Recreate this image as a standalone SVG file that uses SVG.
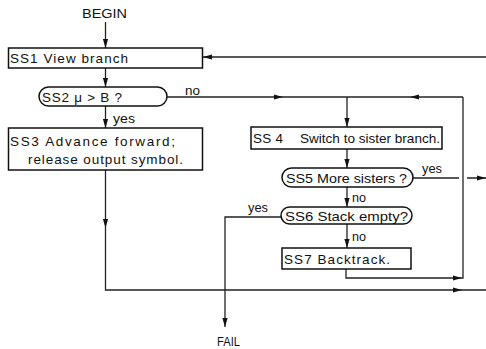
<svg xmlns="http://www.w3.org/2000/svg" xmlns:xlink="http://www.w3.org/1999/xlink" width="486" height="349" viewBox="0 0 486 349">
<style>
.box{fill:#fff;stroke:#111;stroke-width:1.5}
.ln{fill:none;stroke:#222;stroke-width:1.3}
text{font-family:"Liberation Sans",Arial,sans-serif;font-size:13.5px;fill:#111}
.ah{fill:#111}
</style>
<defs>
<path id="ah" class="ah" d="M0,0 L-9,-2.6 L-9,2.6 Z"/>
</defs>
<rect width="486" height="349" fill="#fff"/>
<g id="connectors">
<path class="ln" d="M105.5,22 V48"/>
<use xlink:href="#ah" transform="translate(105.5,48) rotate(90)"/>
<path class="ln" d="M486,57 H202"/>
<use xlink:href="#ah" transform="translate(203,57) rotate(180)"/>
<path class="ln" d="M105.5,68 V87"/>
<use xlink:href="#ah" transform="translate(105.5,87) rotate(90)"/>
<path class="ln" d="M105.5,106 V128"/>
<use xlink:href="#ah" transform="translate(105.5,128) rotate(90)"/>
<path class="ln" d="M167,97 H463"/>
<use xlink:href="#ah" transform="translate(283,97)"/>
<use xlink:href="#ah" transform="translate(410,97) rotate(180)"/>
<path class="ln" d="M347,97 V127"/>
<use xlink:href="#ah" transform="translate(347,127) rotate(90)"/>
<path class="ln" d="M347,149 V168"/>
<use xlink:href="#ah" transform="translate(347,168) rotate(90)"/>
<path class="ln" d="M413,178 H459 M467,178 H486"/>
<use xlink:href="#ah" transform="translate(486,178)"/>
<path class="ln" d="M347,187 V207"/>
<use xlink:href="#ah" transform="translate(347,207) rotate(90)"/>
<path class="ln" d="M347,224 V248"/>
<use xlink:href="#ah" transform="translate(347,248) rotate(90)"/>
<path class="ln" d="M281,217 H225 V327"/>
<use xlink:href="#ah" transform="translate(225,327) rotate(90)"/>
<path class="ln" d="M346,269 V278 H463 V97"/>
<use xlink:href="#ah" transform="translate(462,278)"/>
<path class="ln" d="M105.5,170 V290 H486"/>
<use xlink:href="#ah" transform="translate(105.5,228) rotate(90)"/>
<use xlink:href="#ah" transform="translate(462,290)"/>
</g>
<g id="begin"><text x="82" y="18" textLength="45" lengthAdjust="spacingAndGlyphs">BEGIN</text></g>
<g id="ss1">
<rect class="box" x="8.5" y="48" width="194" height="20"/>
<text x="10" y="63" textLength="118" lengthAdjust="spacing">SS1 View branch</text>
</g>
<g id="ss2">
<rect class="box" x="39" y="87" width="128" height="19" rx="9.5"/>
<text x="42" y="102" textLength="80" lengthAdjust="spacing">SS2  μ &gt; B  ?</text>
<text x="185" y="95" textLength="15" lengthAdjust="spacingAndGlyphs">no</text>
<text x="113" y="123" textLength="22" lengthAdjust="spacingAndGlyphs">yes</text>
</g>
<g id="ss3">
<rect class="box" x="8.5" y="128" width="194" height="42"/>
<text x="10" y="146" textLength="165" lengthAdjust="spacing">SS3 Advance forward;</text>
<text x="28" y="164" textLength="155" lengthAdjust="spacing">release output symbol.</text>
</g>
<g id="ss4">
<rect class="box" x="251" y="127" width="191" height="22"/>
<text x="253" y="143" textLength="30" lengthAdjust="spacing">SS 4</text>
<text x="300" y="143" textLength="140" lengthAdjust="spacingAndGlyphs">Switch to sister branch.</text>
</g>
<g id="ss5">
<rect class="box" x="282" y="168" width="131" height="19" rx="9.5"/>
<text x="286" y="183" textLength="121" lengthAdjust="spacingAndGlyphs">SS5 More sisters ?</text>
<text x="422" y="173" textLength="20" lengthAdjust="spacingAndGlyphs">yes</text>
<text x="352" y="202" textLength="14" lengthAdjust="spacingAndGlyphs">no</text>
</g>
<g id="ss6">
<rect class="box" x="281" y="207" width="131" height="17" rx="8.5"/>
<text x="285" y="221" textLength="123" lengthAdjust="spacingAndGlyphs">SS6 Stack empty?</text>
<text x="248" y="212" textLength="20" lengthAdjust="spacingAndGlyphs">yes</text>
<text x="352" y="241" textLength="14" lengthAdjust="spacingAndGlyphs">no</text>
</g>
<g id="ss7">
<rect class="box" x="282" y="248" width="129" height="21"/>
<text x="284" y="264" textLength="106" lengthAdjust="spacing">SS7  Backtrack.</text>
</g>
<g id="fail"><text x="217" y="346" textLength="23" lengthAdjust="spacingAndGlyphs">FAIL</text></g>
</svg>
